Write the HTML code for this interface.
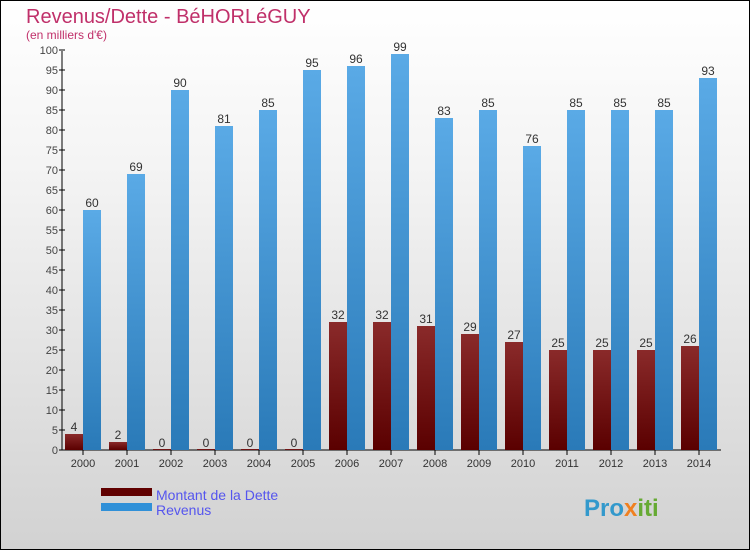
<!DOCTYPE html>
<html><head><meta charset="utf-8"><style>
body{margin:0}
#c{position:relative;width:748px;height:548px;border:1px solid #000;background:linear-gradient(#fff,#f4f4f4 30%,#d2d2d2);font-family:"Liberation Sans",sans-serif;overflow:hidden}
</style></head><body>
<div id="c">
<svg width="748" height="548" id="s">
<defs>
<linearGradient id="gb" x1="0" y1="0" x2="0" y2="1"><stop offset="0" stop-color="#5aaae6"/><stop offset="1" stop-color="#2a7ab8"/></linearGradient>
<linearGradient id="gd" x1="0" y1="0" x2="0" y2="1"><stop offset="0" stop-color="#8a2a2a"/><stop offset="1" stop-color="#5a0000"/></linearGradient>
</defs>
<text x="25" y="22" font-size="20" fill="#c0306a">Revenus/Dette - BéHORLéGUY</text>
<text x="25" y="38" font-size="12" fill="#c0306a">(en milliers d'€)</text>
<g id="g"></g>
<rect x="100" y="487" width="51" height="8" fill="#600000"/>
<rect x="100" y="502" width="51" height="8" fill="#3090d8"/>
<text x="155" y="499" font-size="14" fill="#5555ee">Montant de la Dette</text>
<text x="155" y="514" font-size="14" fill="#5555ee">Revenus</text>
<text x="583" y="515" font-size="24" font-weight="bold" fill="#3399cc">Pro<tspan fill="#f08020">x</tspan><tspan fill="#66aa33">iti</tspan></text>
</svg>
</div>
<script>
const years=["2000","2001","2002","2003","2004","2005","2006","2007","2008","2009","2010","2011","2012","2013","2014"];
const debt=[4,2,0,0,0,0,32,32,31,29,27,25,25,25,26];
const revenus=[60,69,90,81,85,95,96,99,83,85,76,85,85,85,93];
const yTicks=[0,5,10,15,20,25,30,35,40,45,50,55,60,65,70,75,80,85,90,95,100];
const NS="http://www.w3.org/2000/svg";
const g=document.getElementById('g');
const y=v=>449-v*4, x=i=>82+i*44;
function mk(t,a,txt){const e=document.createElementNS(NS,t);for(const k in a)e.setAttribute(k,a[k]);if(txt!==undefined)e.textContent=txt;g.appendChild(e);return e;}
let ax=mk('line',{x1:61,y1:50,x2:61,y2:449,stroke:'#000'});


let bx=mk('line',{x1:61,y1:449,x2:720,y2:449,stroke:'#000'});


yTicks.forEach(v=>{
 let t=mk('line',{x1:58,x2:64,y1:y(v),y2:y(v),stroke:'#000'});
 
 
 let l=mk('text',{x:57,y:y(v)+4,'font-size':11,fill:'#444','text-anchor':'end'},v);
 
 
});
years.forEach((yr,i)=>{
 const cx=x(i);
 let t=mk('line',{x1:cx,x2:cx,y1:449,y2:454,stroke:'#000'});
 
 
 let l=mk('text',{x:cx,y:466,'font-size':11,fill:'#333','text-anchor':'middle'},yr);
 
 
 const dh=Math.max(debt[i]*4,1);
 let d=mk('rect',{x:cx-18,y:449-dh,width:18,height:dh,fill:'url(#gd)'});
 
 
 let dl=mk('text',{x:cx-9,y:y(debt[i])-3,'font-size':12,fill:'#333','text-anchor':'middle'},debt[i]);
 
 
 let r=mk('rect',{x:cx,y:y(revenus[i]),width:18,height:revenus[i]*4,fill:'url(#gb)'});
 
 
 let rl=mk('text',{x:cx+9,y:y(revenus[i])-3,'font-size':12,fill:'#333','text-anchor':'middle'},revenus[i]);
 
 
});
</script>
</body></html>
